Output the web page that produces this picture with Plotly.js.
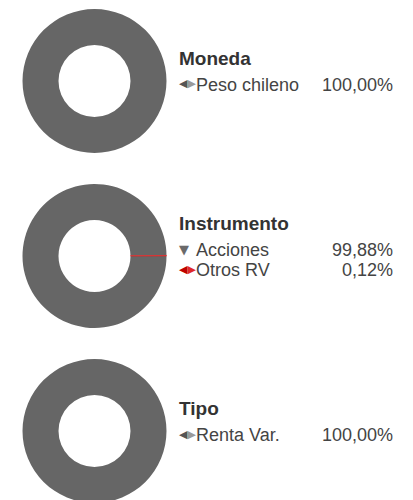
<!DOCTYPE html>
<html>
<head>
<meta charset="utf-8">
<script src="https://cdn.plot.ly/plotly-3.0.1.min.js"></script>
<style>
html,body{margin:0;padding:0;overflow:hidden;background:#fff;}
#chart{width:413px;height:510px;}
</style>
</head>
<body>
<div id="chart"></div>
<script>
// ---- Data ----
const groupTitles = ['Moneda', 'Instrumento', 'Tipo'];
const monedaLabels = ['Peso chileno'];
const monedaValues = [100.00];
const instrumentoLabels = ['Acciones', 'Otros RV'];
const instrumentoValues = [99.88, 0.12];
const tipoLabels = ['Renta Var.'];
const tipoValues = [100.00];

const groupLabels = [monedaLabels, instrumentoLabels, tipoLabels];
const groupValues = [monedaValues, instrumentoValues, tipoValues];
const sliceColors = [['#666666'], ['#666666', '#e02020'], ['#666666']];
const sliceLineW = [[0], [0, 0.6], [0]];
const iconHtml = [
  ['<span style="color:#555">◀</span><span style="color:#9a9a9a">▶</span>'],
  ['<span style="color:#6a6a6a">▼</span>', '<span style="color:#c00000">◀</span><span style="color:#e02828">▶</span>'],
  ['<span style="color:#555">◀</span><span style="color:#9a9a9a">▶</span>']
];

// ---- Layout geometry (pixels) ----
const W = 413, H = 510;
const cx = 94.5, R = 72;
const centers = [81, 256, 431];
const px = x => x / W;
const py = y => 1 - y / H;
const fmt = v => v.toFixed(2).replace('.', ',') + '%';
const FONT = 'Liberation Sans, Arial, sans-serif';

const traces = [];
const annotations = [];
groupTitles.forEach((t, g) => {
  const cy = centers[g];
  traces.push({
    type: 'pie',
    labels: groupLabels[g],
    values: groupValues[g],
    hole: 0.5,
    sort: false,
    direction: 'clockwise',
    rotation: 90,
    textinfo: 'none',
    hoverinfo: 'none',
    showlegend: false,
    marker: {colors: sliceColors[g], line: {width: sliceLineW[g], color: sliceColors[g]}},
    domain: {x: [px(cx - R), px(cx + R)], y: [py(cy + R), py(cy - R)]}
  });
  const n = groupLabels[g].length;
  const ty = cy - 23 - (n - 1) * 10;
  annotations.push({
    text: '<b>' + t + '</b>', x: px(177), y: py(ty), xref: 'paper', yref: 'paper',
    xanchor: 'left', yanchor: 'middle', showarrow: false,
    font: {family: FONT, size: 19, color: '#333333'}
  });
  groupLabels[g].forEach((lab, i) => {
    const ry = ty + 27 + 20 * i;
    annotations.push({
      text: iconHtml[g][i], x: px(177), y: py(ry - 1), xref: 'paper', yref: 'paper',
      xanchor: 'left', yanchor: 'middle', showarrow: false,
      font: {family: 'DejaVu Sans, sans-serif', size: lab === 'Acciones' ? 13 : 11, color: '#666'}
    });
    annotations.push({
      text: lab, x: px(194), y: py(ry), xref: 'paper', yref: 'paper',
      xanchor: 'left', yanchor: 'middle', showarrow: false,
      font: {family: FONT, size: 18, color: '#444444'}
    });
    annotations.push({
      text: fmt(groupValues[g][i]), x: px(395), y: py(ry), xref: 'paper', yref: 'paper',
      xanchor: 'right', yanchor: 'middle', showarrow: false,
      font: {family: FONT, size: 18, color: '#444444'}
    });
  });
});

Plotly.newPlot('chart', traces, {
  width: W, height: H,
  margin: {l: 0, r: 0, t: 0, b: 0, pad: 0},
  paper_bgcolor: '#ffffff',
  showlegend: false,
  annotations: annotations
}, {displayModeBar: false, staticPlot: true});
</script>
</body>
</html>
